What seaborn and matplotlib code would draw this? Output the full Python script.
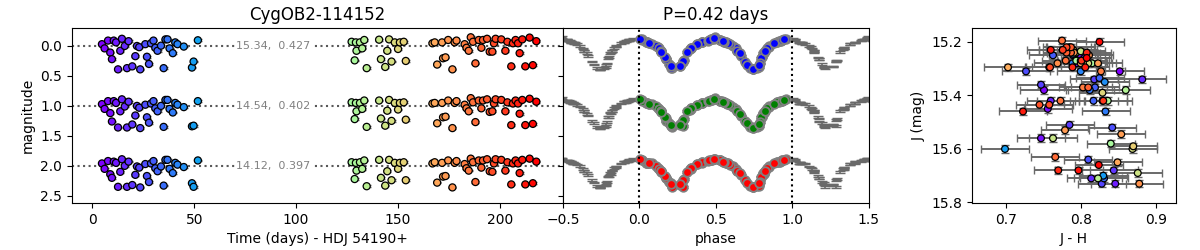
import matplotlib
matplotlib.use('Agg')
import matplotlib.pyplot as plt
import seaborn as sns
import pandas as pd

plt.style.use('default')

# epochs (days after HJD 54190), folded phase, magnitude offsets per band, J-H colour
t_days = [4.7, 6.0, 7.7, 8.8, 10.5, 9.6, 11.6, 12.6, 13.7, 14.5, 15.9, 17.8, 17.0, 19.6, 21.1, 21.9, 23.5, 23.0,
          26.0, 26.8, 27.8, 28.8, 30.0, 30.9, 32.0, 33.7, 35.0, 35.9, 36.9, 37.9, 39.5, 40.7, 41.8, 44.9, 48.9,
          49.7, 51.8,
          127.3, 129.4, 131.4, 133.5, 129.7, 132.5, 128.8, 134.7, 140.8, 145.7, 144.8, 141.7, 143.8, 146.9,
          148.5, 150.1, 151.0, 152.9, 153.9,
          167.0, 168.1, 171.7, 174.7, 177.9, 178.8, 169.3, 172.2, 173.4, 176.8, 182.8, 183.7, 184.8, 185.8,
          186.9, 188.1, 189.7, 191.0, 191.8, 193.8, 195.1, 196.4, 197.2, 198.0, 200.8, 202.8, 203.8, 205.7,
          206.5, 207.8, 209.0, 209.8, 211.1, 212.6, 214.7, 216.3, 218.0]

phase = [0.08, 0.335, 0.54, 0.812, 0.92, 0.175, 0.41, 0.74, 0.14, 0.485, 0.61, 0.91, 0.215, 0.265, 0.665, 0.85,
         0.745, 0.12, 0.38, 0.80, 0.195, 0.575, 0.925, 0.34, 0.64, 0.11, 0.77, 0.015, 0.47, 0.63, 0.81, 0.05,
         0.59, 0.845, 0.21, 0.285, 0.53,
         0.90, 0.045, 0.41, 0.53, 0.82, 0.13, 0.29, 0.725, 0.935, 0.475, 0.64, 0.175, 0.78, 0.69, 0.05, 0.33,
         0.565, 0.90, 0.285,
         0.065, 0.41, 0.565, 0.93, 0.05, 0.45, 0.705, 0.797, 0.168, 0.745, 0.38, 0.835, 0.14, 0.495, 0.555,
         0.787, 0.02, 0.34, 0.53, 0.96, 0.145, 0.315, 0.578, 0.005, 0.47, 0.82, 0.555, 0.205, 0.88, 0.455,
         0.065, 0.655, 0.945, 0.265, 0.49, 0.785, 0.545]

dJ = [-0.03, 0.04, -0.09, 0.11, -0.09, 0.22, -0.06, 0.39, 0.08, -0.12, 0.00, -0.08, 0.37, 0.34, 0.17, 0.00,
      0.39, 0.02, -0.03, 0.18, 0.30, -0.045, -0.09, 0.03, 0.08, -0.005, 0.37, -0.11, -0.11, 0.04, 0.12, -0.06,
      -0.03, 0.01, 0.36, 0.26, -0.095,
      -0.07, -0.06, -0.06, -0.10, 0.08, 0.04, 0.24, 0.37, -0.105, -0.11, 0.08, 0.22, 0.35, 0.26, -0.06, 0.05,
      -0.06, -0.07, 0.25,
      -0.045, -0.06, -0.06, -0.10, -0.06, -0.09, 0.31, 0.205, 0.19, 0.39, -0.03, 0.03, 0.08, -0.145, -0.07,
      0.29, -0.10, 0.03, -0.10, -0.12, 0.095, 0.095, -0.045, -0.12, -0.11, 0.08, -0.07, 0.34, -0.045, -0.10,
      -0.045, 0.12, -0.11, 0.34, -0.14, 0.32, -0.08]

dH = [-0.03, 0.05, -0.08, 0.12, -0.08, 0.26, -0.05, 0.36, 0.09, -0.11, 0.01, -0.07, 0.36, 0.31, 0.16, 0.00,
      0.37, 0.03, -0.02, 0.19, 0.28, -0.04, -0.08, 0.04, 0.09, 0.00, 0.35, -0.10, -0.10, 0.05, 0.11, -0.05,
      -0.02, 0.02, 0.34, 0.33, -0.08,
      -0.06, -0.05, -0.05, -0.09, 0.09, 0.05, 0.22, 0.35, -0.09, -0.10, 0.08, 0.21, 0.33, 0.25, -0.05, 0.06,
      -0.05, -0.06, 0.23,
      -0.04, -0.05, -0.05, -0.09, -0.05, -0.08, 0.29, 0.19, 0.18, 0.37, -0.02, 0.04, 0.09, -0.13, -0.06,
      0.27, -0.09, 0.04, -0.09, -0.11, 0.10, 0.09, -0.04, -0.11, -0.10, 0.09, -0.06, 0.32, -0.04, -0.09,
      -0.04, 0.13, -0.10, 0.32, -0.12, 0.30, -0.07]

dK = [-0.04, 0.05, -0.08, 0.14, -0.07, 0.20, -0.05, 0.35, 0.10, -0.11, 0.00, -0.07, 0.35, 0.32, 0.15, 0.01,
      0.36, 0.03, -0.03, 0.17, 0.27, -0.04, -0.08, 0.04, 0.09, 0.01, 0.33, -0.10, -0.10, 0.05, 0.12, -0.05,
      -0.02, 0.02, 0.29, 0.35, -0.09,
      -0.06, -0.05, -0.06, -0.09, 0.08, 0.05, 0.22, 0.34, -0.10, -0.10, 0.09, 0.20, 0.33, 0.24, -0.05, 0.05,
      -0.05, -0.06, 0.24,
      -0.04, -0.06, -0.05, -0.09, -0.05, -0.08, 0.28, 0.18, 0.17, 0.36, -0.03, 0.04, 0.08, -0.12, -0.06,
      0.27, -0.09, 0.03, -0.09, -0.11, 0.09, 0.10, -0.04, -0.11, -0.10, 0.08, -0.06, 0.31, -0.04, -0.09,
      -0.04, 0.12, -0.10, 0.31, -0.12, 0.29, -0.07]

j_h = [0.852, 0.751, 0.790, 0.756, 0.800, 0.747, 0.795, 0.846, 0.760, 0.785, 0.882, 0.805, 0.814, 0.844, 0.785,
       0.818, 0.828, 0.747, 0.727, 0.842, 0.810, 0.758, 0.763, 0.819, 0.817, 0.825, 0.831, 0.776, 0.785, 0.812,
       0.833, 0.789, 0.800, 0.832, 0.830, 0.699, 0.790,
       0.794, 0.815, 0.803, 0.794, 0.836, 0.860, 0.840, 0.823, 0.800, 0.790, 0.829, 0.763, 0.876, 0.869, 0.810,
       0.829, 0.803, 0.800, 0.870,
       0.703, 0.800, 0.823, 0.791, 0.769, 0.811, 0.849, 0.854, 0.779, 0.878, 0.827, 0.803, 0.773, 0.775, 0.780,
       0.766, 0.787, 0.810, 0.781, 0.787, 0.745, 0.758, 0.759, 0.781, 0.776, 0.830, 0.801, 0.770, 0.789, 0.808,
       0.806, 0.723, 0.760, 0.797, 0.825, 0.824, 0.808]

band_offsets = [0.0, 1.0, 2.0]
band_means = [15.34, 14.54, 14.12]
band_amps = [0.427, 0.402, 0.397]
band_colors = ['blue', 'green', 'red']
mag_err = 0.014
jh_err = 0.032
period = 0.42

# long table, one row per point per band
frames = []
for off, d in zip(band_offsets, [dJ, dH, dK]):
    frames.append(pd.DataFrame({'t': t_days, 'phase': phase, 'mag': [off + v for v in d], 'off': off}))
df = pd.concat(frames, ignore_index=True)
tnorm = (min(t_days), max(t_days))

fig = plt.figure(figsize=(12, 2.5), dpi=100)
ax1 = fig.add_axes([0.06, 0.188, 0.409, 0.70])
ax2 = fig.add_axes([0.469, 0.188, 0.255, 0.70], sharey=ax1)
ax3 = fig.add_axes([0.81, 0.188, 0.17, 0.70])

# --- light curves vs time
for off, mean, amp in zip(band_offsets, band_means, band_amps):
    sub = df[df['off'] == off]
    ax1.errorbar(sub['t'], sub['mag'], yerr=mag_err, fmt='none', ecolor='dimgray', capsize=3, zorder=1)
    ax1.axhline(off, ls=':', color='0.35', lw=1.5, zorder=0)
    ax1.text(89, off, f"{mean:.2f},  {amp:.3f}", fontsize=8, color='0.5', ha='center', va='center',
             bbox=dict(facecolor='white', edgecolor='none', pad=1), zorder=2)
    sns.scatterplot(data=sub, x='t', y='mag', hue='t', palette='rainbow', hue_norm=tnorm,
                    edgecolor='black', linewidth=0.9, s=26, legend=False, ax=ax1, zorder=3)
ax1.set_xlim(-10, 231)
ax1.set_ylim(2.62, -0.3)
ax1.set_xlabel('Time (days) - HDJ 54190+')
ax1.set_ylabel('magnitude')
ax1.set_title('CygOB2-114152')

# --- phase folded
for off, col in zip(band_offsets, band_colors):
    sub = df[df['off'] == off]
    for shift in (-1, 0, 1):
        ax2.errorbar(sub['phase'] + shift, sub['mag'], yerr=mag_err, fmt='none', ecolor='dimgray',
                     elinewidth=1.2, capsize=3.5, zorder=1)
    sns.scatterplot(data=sub, x='phase', y='mag', color=col, edgecolor='0.5', linewidth=1.3, s=38,
                    ax=ax2, zorder=3)
ax2.axvline(0, ls=':', color='black', lw=1.5, zorder=4)
ax2.axvline(1, ls=':', color='black', lw=1.5, zorder=4)
ax2.set_xlim(-0.5, 1.5)
ax2.set_xticks([-0.5, 0.0, 0.5, 1.0, 1.5])
ax2.tick_params(labelleft=False)
ax2.set_xlabel('phase')
ax2.set_ylabel('')
ax2.set_title(f'P={period:.2f} days')

# --- colour-magnitude
cmd = pd.DataFrame({'jh': j_h, 'J': [band_means[0] + v for v in dJ], 't': t_days})
ax3.errorbar(cmd['jh'], cmd['J'], xerr=jh_err, yerr=mag_err, fmt='none', ecolor='dimgray',
             elinewidth=1.4, capsize=3, zorder=1)
sns.scatterplot(data=cmd, x='jh', y='J', hue='t', palette='rainbow', hue_norm=tnorm,
                edgecolor='black', linewidth=0.9, s=24, legend=False, ax=ax3, zorder=3)
ax3.set_xlim(0.655, 0.927)
ax3.set_ylim(15.802, 15.148)
ax3.set_xticks([0.7, 0.8, 0.9])
ax3.set_yticks([15.2, 15.4, 15.6, 15.8])
ax3.set_xlabel('J - H')
ax3.set_ylabel('J (mag)')

fig.savefig('out.png', dpi=100)
plt.close(fig)
